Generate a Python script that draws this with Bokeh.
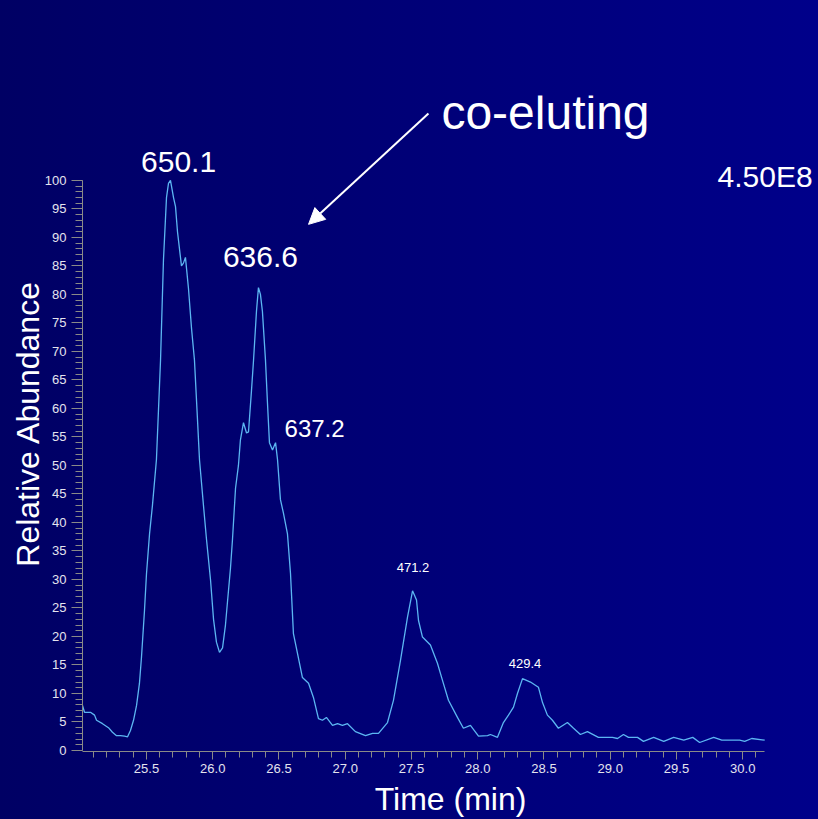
from bokeh.plotting import figure
from bokeh.models import (Range1d, SingleIntervalTicker, PrintfTickFormatter,
                          Label, Arrow, NormalHead, InlineStyleSheet)
from bokeh.embed import file_html
from bokeh.resources import INLINE

# Retention time (min) and relative abundance (%) of the chromatogram trace
time_min = [25.017, 25.032, 25.077, 25.108, 25.123, 25.168, 25.213, 25.243, 25.274,
            25.304, 25.334, 25.357, 25.379, 25.402, 25.425, 25.447, 25.462, 25.485,
            25.500, 25.523, 25.545, 25.575, 25.606, 25.628, 25.651, 25.666, 25.681,
            25.704, 25.719, 25.734, 25.749, 25.764, 25.779, 25.794, 25.817, 25.840,
            25.862, 25.885, 25.900, 25.930, 25.953, 25.983, 26.006, 26.028, 26.051,
            26.074, 26.096, 26.111, 26.134, 26.149, 26.172, 26.194, 26.209, 26.232,
            26.255, 26.270, 26.292, 26.308, 26.330, 26.345, 26.360, 26.375, 26.398,
            26.413, 26.428, 26.451, 26.474, 26.489, 26.511, 26.534, 26.564, 26.587,
            26.609, 26.640, 26.677, 26.723, 26.760, 26.798, 26.828, 26.858, 26.904,
            26.942, 26.979, 27.017, 27.077, 27.153, 27.206, 27.251, 27.319, 27.364,
            27.417, 27.470, 27.508, 27.538, 27.553, 27.583, 27.643, 27.696, 27.734,
            27.779, 27.847, 27.892, 27.945, 28.006, 28.074, 28.096, 28.149, 28.194,
            28.232, 28.270, 28.300, 28.338, 28.398, 28.458, 28.489, 28.526, 28.564,
            28.609, 28.677, 28.723, 28.775, 28.828, 28.911, 29.017, 29.055, 29.100,
            29.138, 29.206, 29.251, 29.328, 29.404, 29.479, 29.555, 29.623, 29.675,
            29.781, 29.842, 29.977, 30.015, 30.068, 30.166]
abundance = [7.9, 6.7, 6.7, 6.2, 5.3, 4.7, 4.0, 3.2, 2.6,
             2.6, 2.5, 2.4, 3.5, 5.3, 7.9, 11.8, 16.3, 24.6,
             31.0, 38.0, 43.0, 51.0, 68.5, 86.0, 97.0, 99.5, 100.0,
             97.0, 95.4, 91.0, 88.0, 85.0, 85.5, 86.5, 81.0, 74.0,
             68.5, 58.0, 51.0, 43.0, 37.0, 30.0, 23.0, 19.0, 17.2,
             18.0, 22.0, 26.0, 32.0, 37.0, 46.0, 50.0, 54.5, 57.5,
             55.7, 55.9, 63.0, 68.5, 77.0, 81.2, 80.0, 77.0, 68.5,
             61.0, 54.0, 52.7, 54.0, 51.0, 44.0, 41.6, 38.0, 31.0,
             20.5, 17.0, 12.8, 11.8, 9.3, 5.6, 5.3, 5.8, 4.4,
             4.7, 4.4, 4.7, 3.3, 2.6, 3.0, 3.0, 4.9, 8.8,
             15.8, 23.4, 28.0, 26.4, 22.8, 19.9, 18.5, 15.3, 12.3,
             8.8, 5.8, 3.9, 4.4, 2.5, 2.6, 2.8, 2.3, 4.9,
             6.2, 7.6, 10.0, 12.6, 12.0, 11.1, 8.4, 6.2, 5.3,
             3.9, 4.9, 3.9, 2.8, 3.3, 2.3, 2.3, 2.1, 2.8,
             2.3, 2.3, 1.6, 2.3, 1.6, 2.3, 1.8, 2.3, 1.4,
             2.3, 1.8, 1.8, 1.6, 2.1, 1.8]

# Peak annotations (m/z of the base ion) and the normalisation level
peak_labels = ["650.1", "636.6", "637.2", "471.2", "429.4"]
scale_label = "4.50E8"
note_text = "co-eluting"
x_title = "Time (min)"
y_title = "Relative Abundance"

FONT = "Liberation Sans"
TXT = "#ffffff"
TICK_TXT = "#e4e4ee"
AXIS_COL = "#8a8a88"

p = figure(width=818, height=819, output_backend="svg", toolbar_location=None,
           x_range=Range1d(25.017, 30.572), y_range=Range1d(-0.18, 114.9),
           min_border_left=82, min_border_bottom=68, min_border_top=95,
           min_border_right=0)

p.stylesheets = [InlineStyleSheet(
    css=":host { background: linear-gradient(to right, #000064, #00008a); }")]
p.background_fill_color = None
p.border_fill_color = None
p.outline_line_color = None
p.grid.visible = False

p.line(time_min, abundance, line_color="#5cb6f2", line_width=1.3)

# axes
xa = p.xaxis[0]
xa.bounds = (25.017, 30.166)
xa.ticker = SingleIntervalTicker(interval=0.5, num_minor_ticks=5)
xa.formatter = PrintfTickFormatter(format="%.1f")
xa.axis_label = x_title
xa.major_tick_out = 8
xa.minor_tick_out = 6
xa.major_tick_in = 0
xa.minor_tick_in = 0
xa.major_label_standoff = 4
xa.axis_label_standoff = 5

ya = p.yaxis[0]
ya.bounds = (0, 100)
ya.ticker = SingleIntervalTicker(interval=5, num_minor_ticks=5)
ya.axis_label = y_title
ya.major_tick_out = 11
ya.minor_tick_out = 7
ya.major_tick_in = 0
ya.minor_tick_in = 0
ya.major_label_standoff = 5
ya.axis_label_standoff = -4

for ax in (xa, ya):
    ax.axis_line_color = AXIS_COL
    ax.major_tick_line_color = AXIS_COL
    ax.minor_tick_line_color = AXIS_COL
    ax.major_label_text_color = TICK_TXT
    ax.major_label_text_font = FONT
    ax.major_label_text_font_size = "13px"
    ax.axis_label_text_color = TXT
    ax.axis_label_text_font = FONT
    ax.axis_label_text_font_style = "normal"
    ax.axis_label_text_font_size = "32px"

# peak labels
label_specs = [
    (25.742, 103.2, "center", "30px"),
    (26.360, 86.5, "center", "30px"),
    (26.542, 56.5, "left", "24px"),
    (27.511, 32.1, "center", "13px"),
    (28.357, 15.3, "center", "13px"),
]
for text, (lx, ly, align, size) in zip(peak_labels, label_specs):
    p.add_layout(Label(x=lx, y=ly, text=text, text_align=align,
                       text_baseline="alphabetic", text_color=TXT,
                       text_font=FONT, text_font_size=size))

p.add_layout(Label(x=29.81, y=100.7, text=scale_label, text_align="left",
                   text_baseline="alphabetic", text_color=TXT,
                   text_font=FONT, text_font_size="30px"))

p.add_layout(Label(x=27.726, y=112.0, text=note_text, text_align="left",
                   text_baseline="alphabetic", text_color=TXT,
                   text_font=FONT, text_font_size="48px"))

p.add_layout(Arrow(end=NormalHead(size=16, fill_color="white", line_color="white"),
                   x_start=27.628, y_start=111.75, x_end=26.723, y_end=92.3,
                   line_color="white", line_width=2))

open("out.html", "w").write(file_html(p, INLINE))
